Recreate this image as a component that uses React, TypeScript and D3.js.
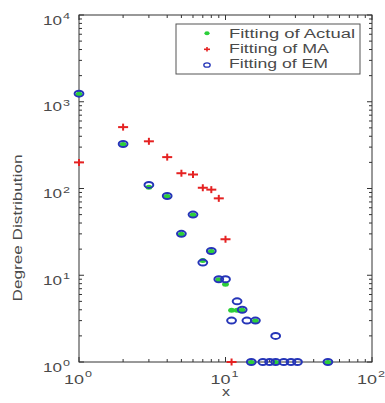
import React from "react";
import * as d3 from "d3";

// Degree distribution fits on log-log axes
const actualX = [1, 2, 3, 4, 5, 6, 7, 8, 9, 10, 11, 12, 13, 16, 15, 22, 50];
const actualY = [1240, 326, 105, 82, 30, 50, 15, 19, 9, 8, 4, 4, 4, 3, 1, 1, 1];

const maX = [1, 2, 3, 4, 5, 6, 7, 8, 9, 10, 11];
const maY = [200, 510, 350, 230, 150, 145, 102, 97, 77, 26, 1];

const emX = [1, 2, 3, 4, 5, 6, 7, 8, 9, 10, 12, 13, 11, 14, 16, 22, 15, 18, 20, 22, 25, 28, 31, 50];
const emY = [1240, 326, 110, 82, 30, 50, 14, 19, 9, 9, 5, 4, 3, 3, 3, 2, 1, 1, 1, 1, 1, 1, 1, 1];

const xMajor = [1, 10, 100];
const yMajor = [1, 10, 100, 1000, 10000];
const xExp = ["0", "1", "2"];
const yExp = ["0", "1", "2", "3", "4"];

const legendLabels = ["Fitting of Actual", "Fitting of MA", "Fitting of EM"];
const legendWidths = [126, 100, 99];

const FONT = "'Liberation Sans', Arial, Helvetica, sans-serif";
const W = 385;
const H = 403;
const L = 79, R = 372, T = 15, B = 362;

const GREEN = "#2ccf3a";
const RED = "#e52222";
const BLUE = "#2535b8";
const AXIS = "#333";
const TEXT = "#4a4a4a";

function minorTicks(lo: number, hi: number): number[] {
  const out: number[] = [];
  for (let d = lo; d < hi; d *= 10) {
    for (let k = 2; k <= 9; k++) out.push(d * k);
  }
  return out;
}

export default function App() {
  const x = d3.scaleLog().domain([1, 100]).range([L, R]);
  const y = d3.scaleLog().domain([1, 10000]).range([B, T]);

  const xMinor = minorTicks(1, 100);
  const yMinor = minorTicks(1, 10000);
  const major = 5;
  const minor = 3;

  const actual = actualX.map((v, i) => [v, actualY[i]]);
  const ma = maX.map((v, i) => [v, maY[i]]);
  const em = emX.map((v, i) => [v, emY[i]]);

  return (
    <svg
      width={W}
      height={H}
      style={{ position: "absolute", left: 0, top: 0, background: "#fff" }}
      fontFamily={FONT}
    >
      <rect x={0} y={0} width={W} height={H} fill="#fff" />

      {/* axes box */}
      <rect x={L} y={T} width={R - L} height={B - T} fill="none" stroke={AXIS} strokeWidth={1} />

      {/* x ticks, bottom and top, pointing inward */}
      {xMajor.map((v) => (
        <g key={"xM" + v}>
          <line x1={x(v)} x2={x(v)} y1={B} y2={B - major} stroke={AXIS} />
          <line x1={x(v)} x2={x(v)} y1={T} y2={T + major} stroke={AXIS} />
        </g>
      ))}
      {xMinor.map((v) => (
        <g key={"xm" + v}>
          <line x1={x(v)} x2={x(v)} y1={B} y2={B - minor} stroke={AXIS} />
          <line x1={x(v)} x2={x(v)} y1={T} y2={T + minor} stroke={AXIS} />
        </g>
      ))}
      {/* y ticks, left and right */}
      {yMajor.map((v) => (
        <g key={"yM" + v}>
          <line x1={L} x2={L + major} y1={y(v)} y2={y(v)} stroke={AXIS} />
          <line x1={R} x2={R - major} y1={y(v)} y2={y(v)} stroke={AXIS} />
        </g>
      ))}
      {yMinor.map((v) => (
        <g key={"ym" + v}>
          <line x1={L} x2={L + minor} y1={y(v)} y2={y(v)} stroke={AXIS} />
          <line x1={R} x2={R - minor} y1={y(v)} y2={y(v)} stroke={AXIS} />
        </g>
      ))}

      {/* x tick labels */}
      {xMajor.map((v, i) => (
        <g key={"xl" + v} fill={TEXT}>
          <text x={x(v) - 15} y={383.5} fontSize={13} textLength={20} lengthAdjust="spacingAndGlyphs">
            10
          </text>
          <text x={x(v) + 6} y={377} fontSize={9.5} textLength={7} lengthAdjust="spacingAndGlyphs">
            {xExp[i]}
          </text>
        </g>
      ))}

      {/* y tick labels */}
      {yMajor.map((v, i) => (
        <g key={"yl" + v} fill={TEXT}>
          <text x={43} y={y(v) + 9.5} fontSize={13} textLength={19} lengthAdjust="spacingAndGlyphs">
            10
          </text>
          <text x={63} y={y(v) + 4} fontSize={9.5} textLength={7} lengthAdjust="spacingAndGlyphs">
            {yExp[i]}
          </text>
        </g>
      ))}

      {/* axis titles */}
      <text x={226} y={396} fontSize={12} fill={TEXT} textAnchor="middle" textLength={8} lengthAdjust="spacingAndGlyphs">
        x
      </text>
      <text
        transform="translate(22,228) rotate(-90)"
        fontSize={13}
        fill={TEXT}
        textAnchor="middle"
        textLength={147}
        lengthAdjust="spacingAndGlyphs"
      >
        Degree Distribution
      </text>

      {/* Actual: filled green markers */}
      {actual.map(([a, b], i) => (
        <ellipse key={"a" + i} cx={x(a)} cy={y(b) + 0.5} rx={3.4} ry={2.5} fill={GREEN} />
      ))}

      {/* MA: red plus markers */}
      {ma.map(([a, b], i) => (
        <g key={"m" + i} stroke={RED} strokeWidth={2}>
          <line x1={x(a) - 5} x2={x(a) + 5} y1={y(b)} y2={y(b)} />
          <line x1={x(a)} x2={x(a)} y1={y(b) - 3.5} y2={y(b) + 3.5} />
        </g>
      ))}

      {/* EM: open blue circles */}
      {em.map(([a, b], i) => (
        <ellipse
          key={"e" + i}
          cx={x(a)}
          cy={y(b)}
          rx={4.4}
          ry={3}
          fill="none"
          stroke={BLUE}
          strokeWidth={2}
        />
      ))}

      {/* legend */}
      <rect x={176} y={24} width={184} height={50} fill="#fff" stroke="#555" strokeWidth={1} />
      <ellipse cx={207} cy={33.3} rx={2.6} ry={2} fill={GREEN} />
      <g stroke={RED} strokeWidth={1.6}>
        <line x1={204} x2={210} y1={49.3} y2={49.3} />
        <line x1={207} x2={207} y1={47} y2={51.6} />
      </g>
      <ellipse cx={207} cy={65} rx={3.2} ry={2.2} fill="none" stroke={BLUE} strokeWidth={1.3} />
      {legendLabels.map((t, i) => (
        <text
          key={t}
          x={229}
          y={37.5 + i * 15.4}
          fontSize={12.5}
          fill={TEXT}
          textLength={legendWidths[i]}
          lengthAdjust="spacingAndGlyphs"
        >
          {t}
        </text>
      ))}
    </svg>
  );
}
